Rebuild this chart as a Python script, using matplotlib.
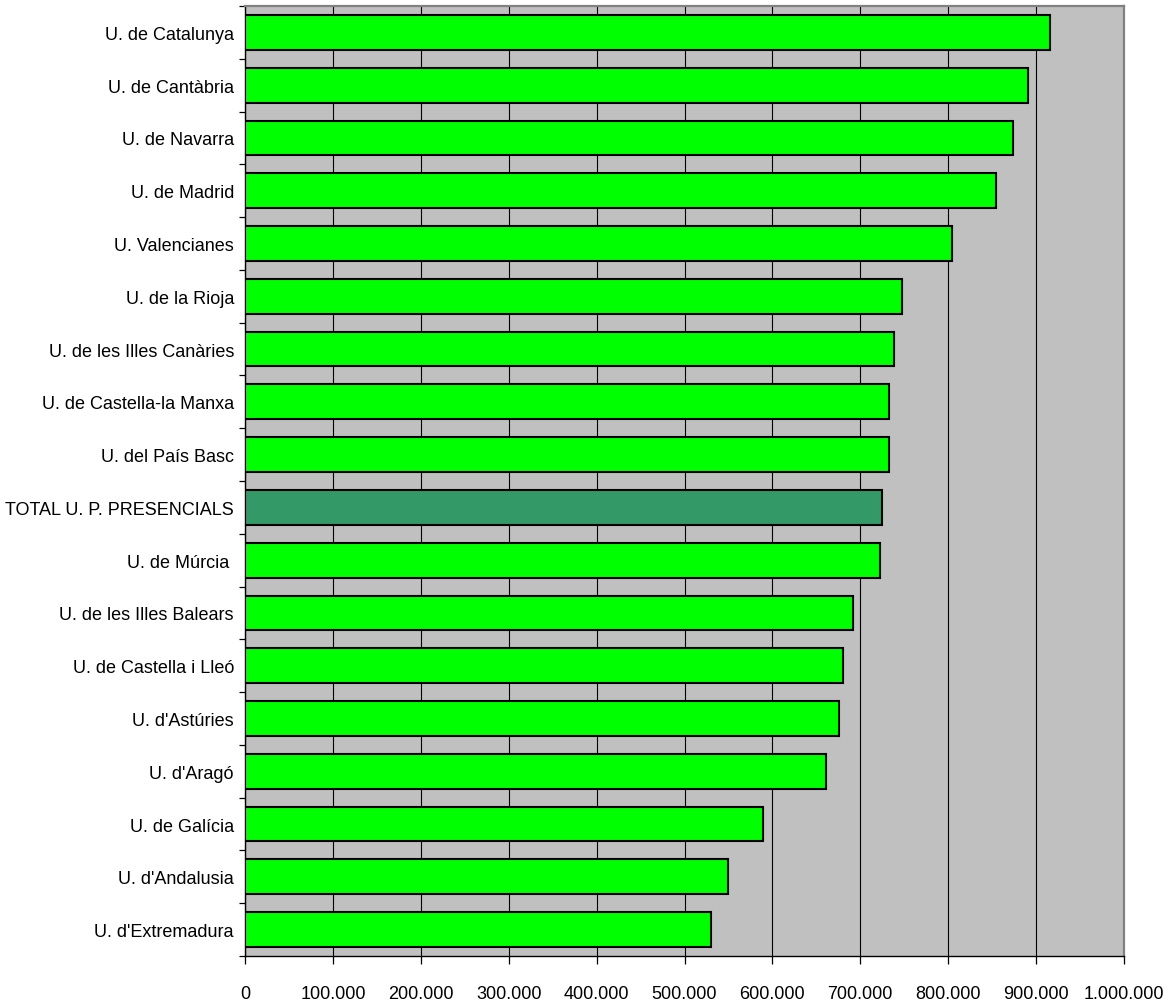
import matplotlib
matplotlib.use("Agg")
import matplotlib.pyplot as plt
from matplotlib.ticker import FuncFormatter, FixedLocator

# Universities, top to bottom
universities = [
    "U. de Catalunya",
    "U. de Cantàbria",
    "U. de Navarra",
    "U. de Madrid",
    "U. Valencianes",
    "U. de la Rioja",
    "U. de les Illes Canàries",
    "U. de Castella-la Manxa",
    "U. del País Basc",
    "TOTAL U. P. PRESENCIALS",
    "U. de Múrcia ",
    "U. de les Illes Balears",
    "U. de Castella i Lleó",
    "U. d'Astúries",
    "U. d'Aragó",
    "U. de Galícia",
    "U. d'Andalusia",
    "U. d'Extremadura",
]
values = [
    915900, 890900, 873500, 853900, 804500, 747400, 738000, 732600, 732600,
    724300, 722700, 692000, 680700, 675500, 661200, 589300, 549600, 529900,
]
highlight = "TOTAL U. P. PRESENCIALS"
x_ticks = [0, 100000, 200000, 300000, 400000, 500000, 600000, 700000,
           800000, 900000, 1000000]

plt.rcParams["font.family"] = ["Liberation Sans", "DejaVu Sans"]

fig = plt.figure(figsize=(11.71, 10.04), dpi=100)
ax = fig.add_axes([245 / 1171, 47 / 1004, (1124 - 245) / 1171, (957 - 7) / 1004])
ax.set_facecolor("#C0C0C0")

colors = ["#339966" if u == highlight else "#00FF00" for u in universities]
ypos = list(range(len(universities)))
ax.barh(ypos, values, height=0.66, color=colors, edgecolor="black",
        linewidth=1.5, zorder=3)

ax.set_xlim(0, 1000000)
ax.set_ylim(len(universities) - 0.5, -0.5)

# vertical gridlines
ax.xaxis.set_major_locator(FixedLocator(x_ticks))
ax.grid(axis="x", color="black", linewidth=0.8, zorder=1)
ax.set_axisbelow(True)

def thousands(v, pos):
    return f"{int(v):,}".replace(",", ".")

ax.xaxis.set_major_formatter(FuncFormatter(thousands))
ax.tick_params(axis="x", which="major", direction="out", length=6,
               width=0.9, pad=15, labelsize=13, color="black")

# category labels centred, tick marks on category boundaries
ax.set_yticks(ypos)
ax.set_yticklabels(universities)
ax.set_yticks([i - 0.5 for i in range(len(universities) + 1)], minor=True)
ax.tick_params(axis="y", which="major", length=0, pad=8, labelsize=13)
ax.tick_params(axis="y", which="minor", direction="out", length=4,
               width=0.9, color="black")

for side in ("left", "bottom"):
    ax.spines[side].set_color("black")
    ax.spines[side].set_linewidth(1.0)
for side in ("top", "right"):
    ax.spines[side].set_color("#808080")
    ax.spines[side].set_linewidth(1.6)

fig.savefig("out.png", dpi=100, facecolor="white")
